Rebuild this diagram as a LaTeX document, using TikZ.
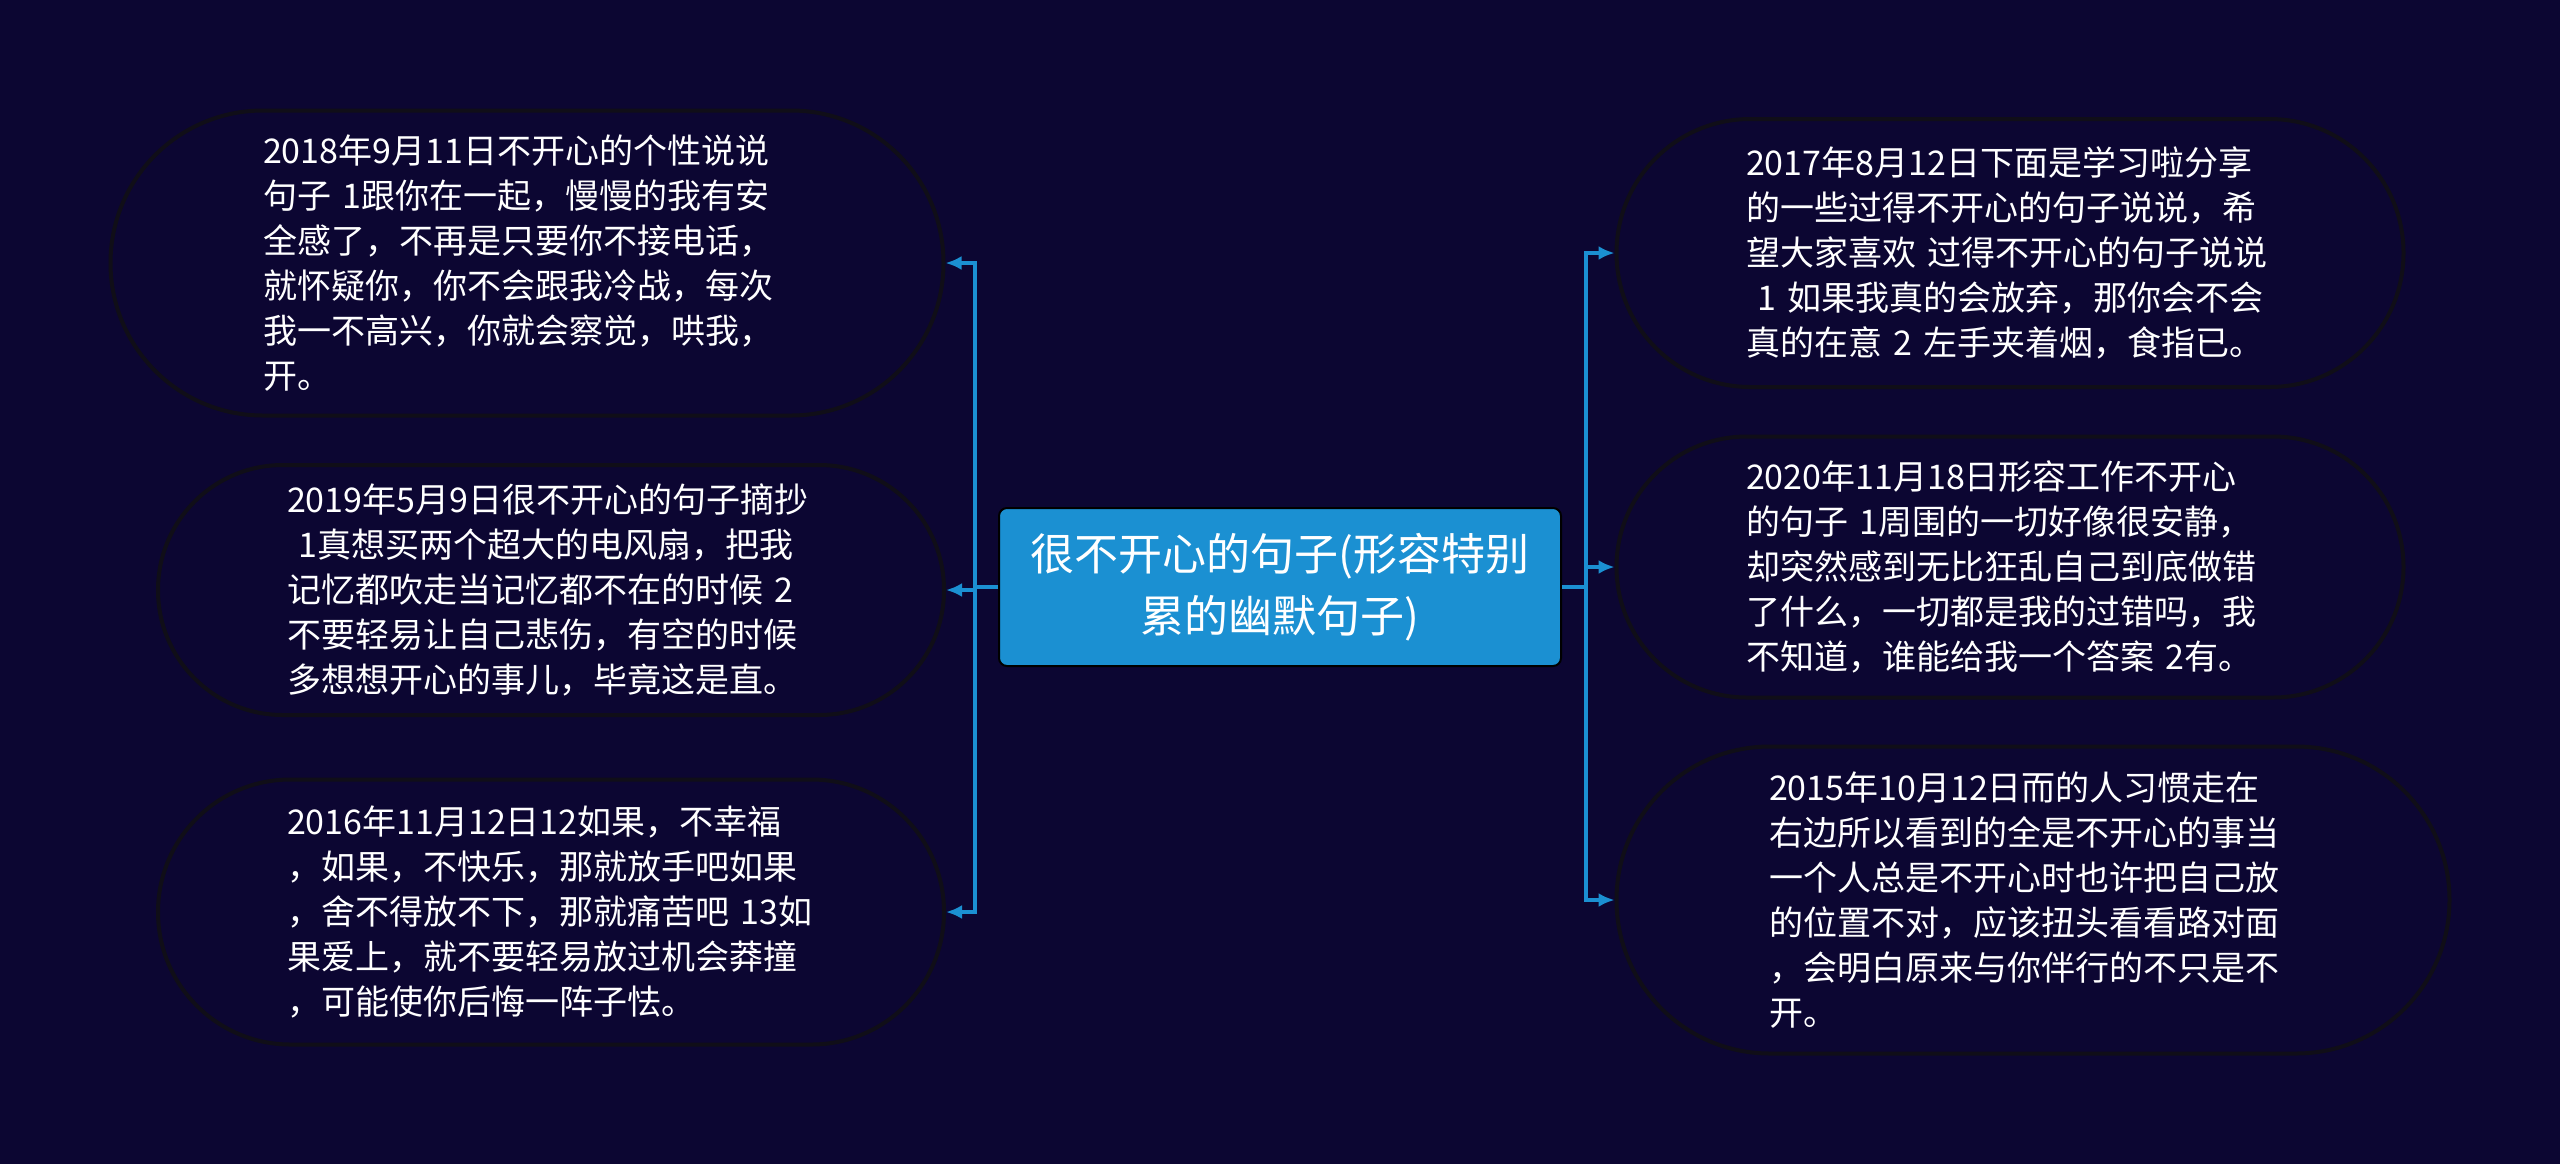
\documentclass[tikz,border=0pt]{standalone}
\usepackage{fontspec}
\setmainfont{Noto Sans CJK SC}
\usetikzlibrary{arrows.meta}
\definecolor{nen}{RGB}{12,6,50}
\definecolor{xanh}{RGB}{27,144,210}
\definecolor{vien}{RGB}{16,14,24}
\begin{document}
\begin{tikzpicture}[x=0.5pt,y=-0.5pt]
\tikzset{s/.style={draw=vien,line width=2pt,rectangle,text=white,text width=264pt,align=left,font=\fontsize{17pt}{22.5pt}\selectfont},
g/.style={fill=xanh,draw=black,line width=1pt,rounded corners=4pt,text=white,text width=268pt,align=center,minimum width=281pt,minimum height=79pt,font=\fontsize{22pt}{31pt}\selectfont},
m/.style={draw=xanh,line width=1.8pt,-{Latex[length=8pt,width=7pt]}}}
\fill[nen](0,0)rectangle(2560,1164);
\useasboundingbox(0,0)rectangle(2560,1164);
\path(1280,587)node[g](G){很不开心的句子(形容特别\\累的幽默句子)};
%%Node bên trái
\path(527,263)node[s,minimum width=416.5pt,minimum height=152.5pt,rounded corners=76.2pt](L1){2018年9月11日不开心的个性说说\\句子 1跟你在一起，慢慢的我有安\\全感了，不再是只要你不接电话，\\就怀疑你，你不会跟我冷战，每次\\我一不高兴，你就会察觉，哄我，\\开。};
\path(551,590)node[s,minimum width=393pt,minimum height=125pt,rounded corners=62.4pt](L2){2019年5月9日很不开心的句子摘抄\\\ 1真想买两个超大的电风扇，把我\\记忆都吹走当记忆都不在的时候 2\\不要轻易让自己悲伤，有空的时候\\多想想开心的事儿，毕竟这是直。};
\path(551,912)node[s,minimum width=393pt,minimum height=132.5pt,rounded corners=66.2pt](L3){2016年11月12日12如果，不幸福\\，如果，不快乐，那就放手吧如果\\，舍不得放不下，那就痛苦吧 13如\\果爱上，就不要轻易放过机会莽撞\\，可能使你后悔一阵子怯。};
%%Node bên phải
\path(2010,253)node[s,minimum width=393.5pt,minimum height=134pt,rounded corners=66.9pt](R1){2017年8月12日下面是学习啦分享\\的一些过得不开心的句子说说，希\\望大家喜欢 过得不开心的句子说说\\\ 1 如果我真的会放弃，那你会不会\\真的在意 2 左手夹着烟，食指已。};
\path(2010,567)node[s,minimum width=393.5pt,minimum height=130.5pt,rounded corners=65.2pt](R2){2020年11月18日形容工作不开心\\的句子 1周围的一切好像很安静，\\却突然感到无比狂乱自己到底做错\\了什么，一切都是我的过错吗，我\\不知道，谁能给我一个答案 2有。};
\path(2033,900)node[s,minimum width=416.5pt,minimum height=153.5pt,rounded corners=76.7pt](R3){2015年10月12日而的人习惯走在\\右边所以看到的全是不开心的事当\\一个人总是不开心时也许把自己放\\的位置不对，应该扭头看看路对面\\，会明白原来与你伴行的不只是不\\开。};
\coordinate(T)at(975,587);
\coordinate(P)at(1586,587);
\draw[m,-](G.west)--(T);
\draw[m,-](G.east)--(P);
\foreach \x in {L1,L2,L3}
\draw[m](T)|-(\x.east);
\foreach \x in {R1,R2,R3}
\draw[m](P)|-(\x.west);
\end{tikzpicture}
\end{document}
